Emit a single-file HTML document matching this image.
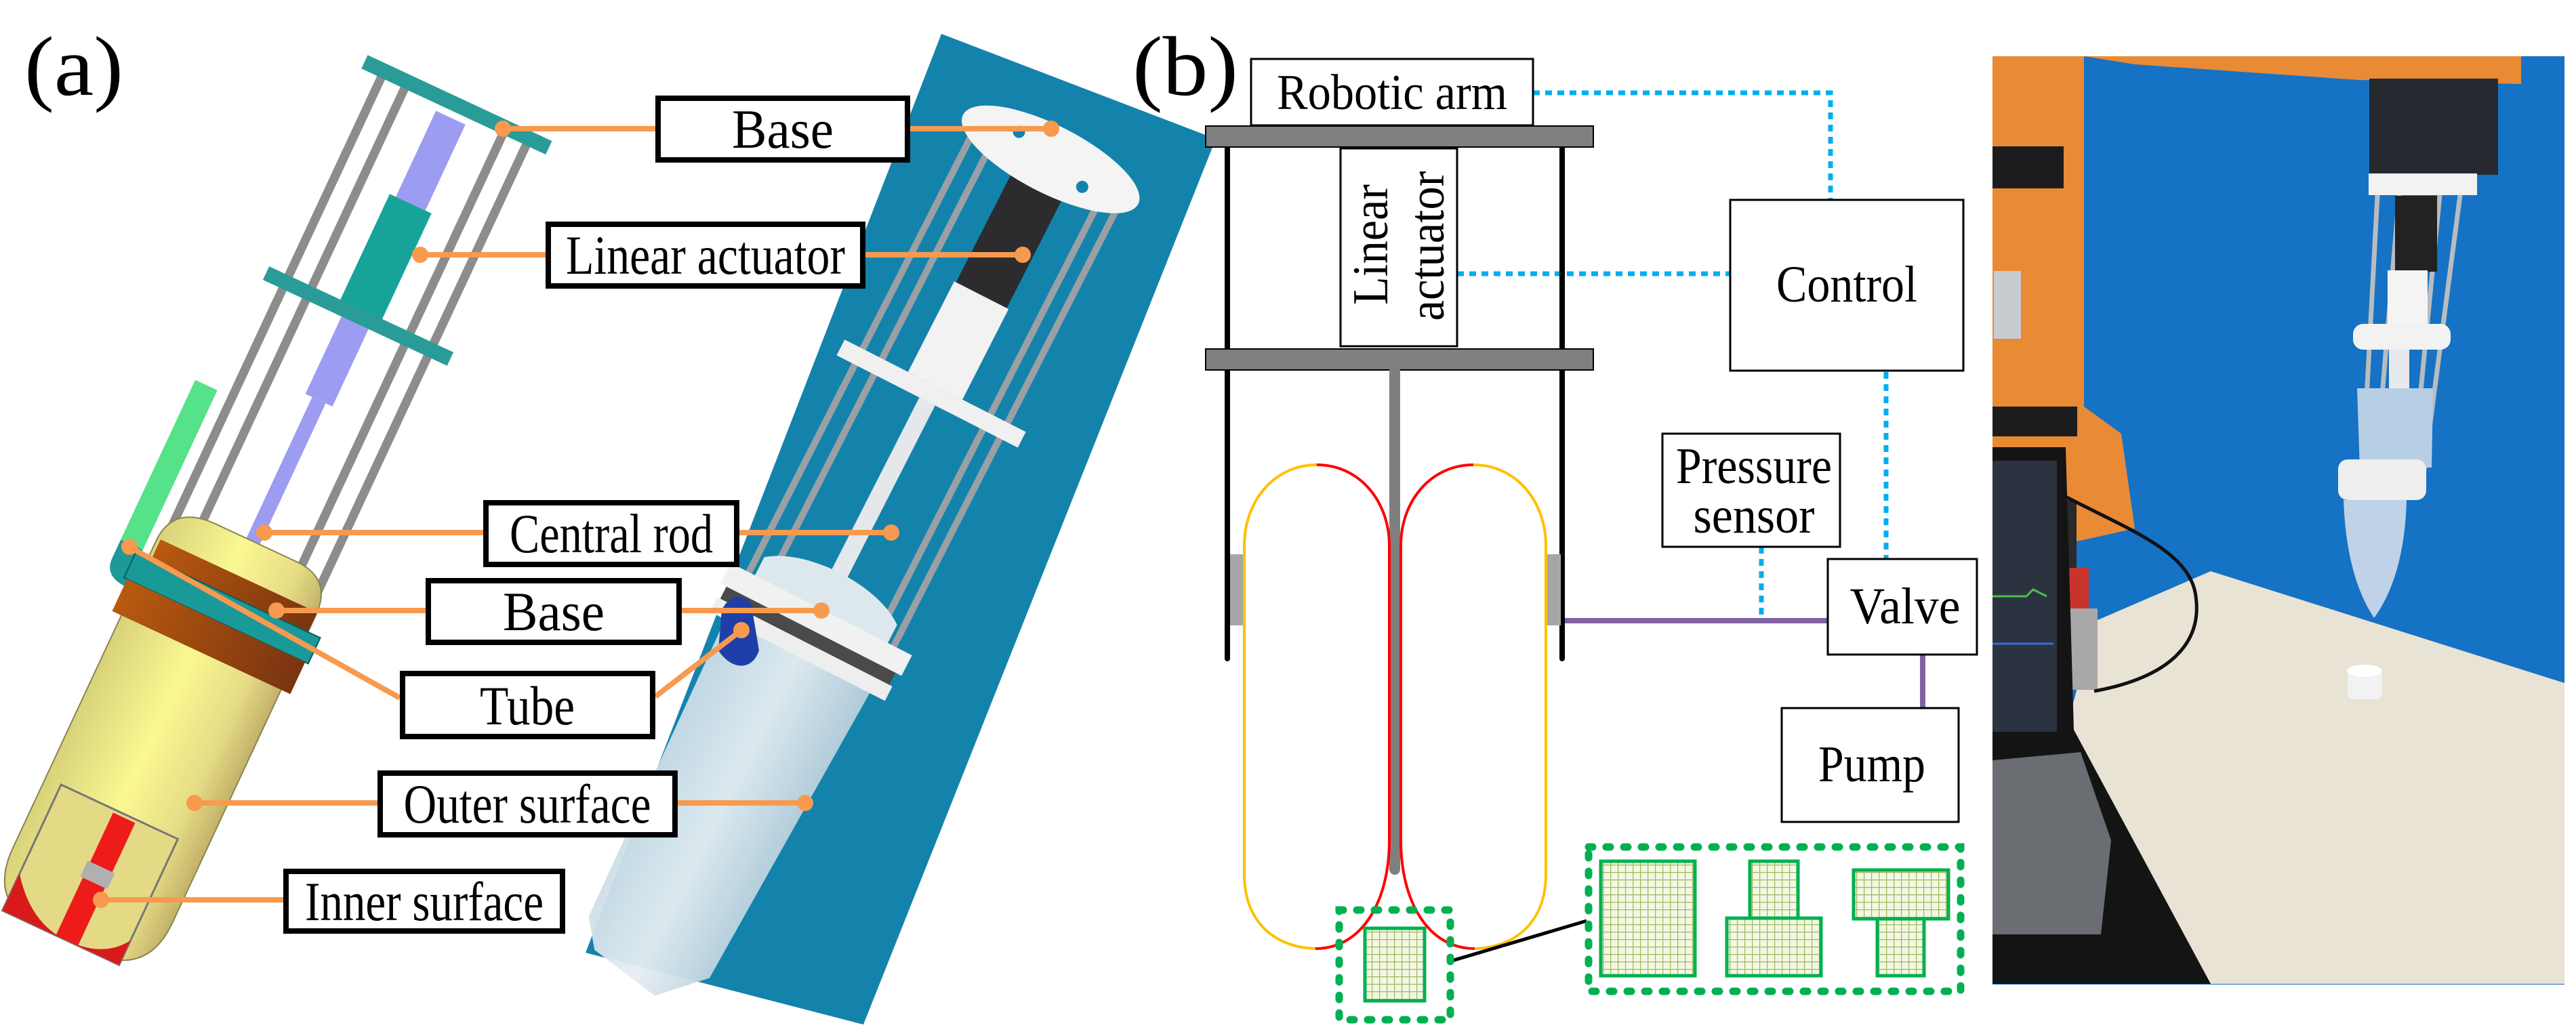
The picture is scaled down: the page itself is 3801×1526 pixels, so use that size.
<!DOCTYPE html>
<html><head><meta charset="utf-8"><style>
html,body{margin:0;padding:0;background:#fff;}
svg{display:block;}
svg text{font-family:"Liberation Serif","DejaVu Serif",serif;fill:#000;}
</style></head><body>
<svg width="3801" height="1526" viewBox="0 0 3801 1526" xmlns="http://www.w3.org/2000/svg" font-family="Liberation Serif, DejaVu Serif, serif">
<defs>
<pattern id="grid" width="11" height="11" patternUnits="userSpaceOnUse">
<rect width="11" height="11" fill="#f4f7e6"/>
<path d="M0 0H11M0 0V11" stroke="#9dbb58" stroke-width="2.5"/>
</pattern>
<linearGradient id="yel" x1="0" x2="1" y1="0" y2="0">
<stop offset="0" stop-color="#d8d27a"/><stop offset="0.45" stop-color="#fbf891"/><stop offset="0.8" stop-color="#e6dc86"/><stop offset="1" stop-color="#c2b26a"/>
</linearGradient>
<linearGradient id="brn" x1="0" x2="1"><stop offset="0" stop-color="#b85a10"/><stop offset="1" stop-color="#7a3410"/></linearGradient>
<linearGradient id="bag" x1="0" x2="1"><stop offset="0" stop-color="#c9dbe6"/><stop offset="0.5" stop-color="#e6eef2"/><stop offset="1" stop-color="#b8cfdc"/></linearGradient>
</defs>

<text x="36" y="140" font-size="125" font-family="Liberation Serif, DejaVu Serif, serif" textLength="146" lengthAdjust="spacingAndGlyphs">(a)</text>

<polygon points="1389,50 1794,205 1274,1512 864,1406" fill="#1483ac"/>

<g transform="translate(1212,899) rotate(27)">
  <path d="M-120,70 L120,70 L100,560 L40,620 L-70,600 L-100,560 Z" fill="url(#bag)" opacity="0.95"/>
  <g stroke="#9aa0a4" stroke-width="10">
    <line x1="-120" y1="-740" x2="-120" y2="40"/><line x1="-88" y1="-740" x2="-88" y2="40"/>
    <line x1="92" y1="-740" x2="92" y2="40"/><line x1="120" y1="-740" x2="120" y2="40"/>
  </g>
  <rect x="-42" y="-720" width="84" height="200" fill="#2c2c2e"/>
  <rect x="-45" y="-520" width="90" height="150" fill="#f2f2f2"/>
  <rect x="-13" y="-370" width="26" height="360" fill="#e4e8ea"/>
  <ellipse cx="0" cy="-745" rx="145" ry="50" fill="#f4f4f4"/>
  <circle cx="-60" cy="-760" r="9" fill="#1483ac"/><circle cx="60" cy="-730" r="9" fill="#1483ac"/>
  <rect x="-150" y="-370" width="300" height="26" fill="#f0f0f0"/>
  <path d="M-110,-30 C-60,-70 60,-70 110,-30 L110,10 L-110,10 Z" fill="#dde8ee"/>
  <rect x="-150" y="0" width="300" height="34" fill="#f1f1f1"/>
  <rect x="-140" y="34" width="280" height="20" fill="#4a4a4a"/>
  <rect x="-145" y="54" width="290" height="24" fill="#eeeeee"/>
</g>
<path d="M1065,900 C1080,870 1110,880 1110,900 L1120,960 C1110,990 1080,990 1060,960 Z" fill="#1f3fa8"/>

<g transform="translate(310,935) rotate(25)">
  <g stroke="#8c8c8c" stroke-width="13">
    <line x1="-118" y1="-860" x2="-118" y2="-30"/><line x1="-80" y1="-860" x2="-80" y2="-30"/>
    <line x1="80" y1="-860" x2="80" y2="-30"/><line x1="118" y1="-860" x2="118" y2="-30"/>
  </g>
  <rect x="-24" y="-840" width="48" height="140" fill="#9c9cf2"/>
  <rect x="-34" y="-700" width="68" height="180" fill="#17a39a"/>
  <rect x="-22" y="-520" width="44" height="140" fill="#9c9cf2"/>
  <rect x="-11" y="-380" width="22" height="260" fill="#9c9cf2"/>
  <rect x="-150" y="-872" width="300" height="22" fill="#2a9c98"/>
  <rect x="-150" y="-528" width="300" height="22" fill="#2a9c98"/>
  <rect x="-178" y="-330" width="36" height="260" fill="#55e288"/>
  <path d="M-178,-70 L-178,-40 Q-178,-10 -140,-10 L-130,-10 L-130,-50 L-142,-50 L-142,-70 Z" fill="#1d9a98"/>
  <path d="M-130,-90 Q-130,-150 -60,-150 L70,-150 Q130,-150 130,-90 L130,410 Q130,500 40,500 L-40,500 Q-130,500 -130,410 Z" fill="url(#yel)" stroke="#8a8450" stroke-width="2"/>
  <rect x="-125" y="-95" width="255" height="32" fill="url(#brn)"/>
  <rect x="-150" y="-63" width="300" height="42" fill="#199a98" stroke="#0a5e5c" stroke-width="2"/>
  <rect x="-145" y="-21" width="290" height="52" fill="url(#brn)"/>
  <rect x="-105" y="295" width="190" height="205" fill="#e4da86" stroke="#777" stroke-width="3"/>
  <rect x="-18" y="300" width="36" height="200" fill="#ee1b1b"/>
  <rect x="-22" y="380" width="44" height="26" fill="#b0b0b0"/>
  <path d="M-105,440 Q-60,500 0,500 Q60,500 85,460 L85,500 L-105,500 Z" fill="#d81a1a"/>
</g>

<g stroke="#f79a4f" stroke-width="8" fill="none">
  <line x1="742" y1="190" x2="967" y2="190"/><line x1="1343" y1="190" x2="1551" y2="190"/>
  <line x1="620" y1="376" x2="805" y2="376"/><line x1="1277" y1="376" x2="1509" y2="376"/>
  <line x1="390" y1="786" x2="713" y2="786"/><line x1="1091" y1="786" x2="1315" y2="786"/>
  <line x1="408" y1="901" x2="628" y2="901"/><line x1="1006" y1="901" x2="1212" y2="901"/>
  <line x1="191" y1="807" x2="590" y2="1030"/><line x1="967" y1="1028" x2="1094" y2="930"/>
  <line x1="287" y1="1185" x2="557" y2="1185"/><line x1="1000" y1="1185" x2="1188" y2="1185"/>
  <line x1="149" y1="1328" x2="418" y2="1328"/>
</g>
<g fill="#f79a4f">
  <circle cx="742" cy="190" r="12"/><circle cx="1551" cy="190" r="12"/>
  <circle cx="620" cy="376" r="12"/><circle cx="1509" cy="376" r="12"/>
  <circle cx="390" cy="786" r="12"/><circle cx="1315" cy="786" r="12"/>
  <circle cx="408" cy="901" r="12"/><circle cx="1212" cy="901" r="12"/>
  <circle cx="191" cy="807" r="12"/><circle cx="1094" cy="930" r="12"/>
  <circle cx="287" cy="1185" r="12"/><circle cx="1188" cy="1185" r="12"/>
  <circle cx="149" cy="1328" r="12"/>
</g>

<g fill="#fff" stroke="#000" stroke-width="8">
  <rect x="971" y="145" width="368" height="91"/>
  <rect x="809" y="331" width="464" height="91"/>
  <rect x="717" y="742" width="370" height="91"/>
  <rect x="632" y="857" width="370" height="91"/>
  <rect x="594" y="994" width="369" height="93"/>
  <rect x="561" y="1141" width="435" height="91"/>
  <rect x="422" y="1286" width="408" height="88"/>
</g>
<g font-size="82" text-anchor="middle" font-family="Liberation Serif, DejaVu Serif, serif">
  <text x="1155" y="218" textLength="150" lengthAdjust="spacingAndGlyphs">Base</text>
  <text x="1041" y="404" textLength="412" lengthAdjust="spacingAndGlyphs">Linear actuator</text>
  <text x="902" y="815" textLength="300" lengthAdjust="spacingAndGlyphs">Central rod</text>
  <text x="817" y="930" textLength="150" lengthAdjust="spacingAndGlyphs">Base</text>
  <text x="778" y="1069" textLength="140" lengthAdjust="spacingAndGlyphs">Tube</text>
  <text x="778" y="1214" textLength="365" lengthAdjust="spacingAndGlyphs">Outer surface</text>
  <text x="626" y="1358" textLength="352" lengthAdjust="spacingAndGlyphs">Inner surface</text>
</g>

<text x="1671" y="140" font-size="125" font-family="Liberation Serif, DejaVu Serif, serif" textLength="156" lengthAdjust="spacingAndGlyphs">(b)</text>

<g stroke="#00aeef" stroke-width="7" fill="none" stroke-dasharray="10 8">
  <polyline points="2262,137 2701,137 2701,295"/>
  <line x1="2150" y1="404" x2="2553" y2="404"/>
  <line x1="2783" y1="549" x2="2783" y2="825"/>
  <line x1="2599" y1="807" x2="2599" y2="914"/>
</g>
<g stroke="#8064a2" stroke-width="8">
  <line x1="2308" y1="916" x2="2697" y2="916"/>
  <line x1="2837" y1="966" x2="2837" y2="1045"/>
</g>

<g stroke="#000" stroke-width="8" stroke-linecap="round">
  <line x1="1811" y1="216" x2="1811" y2="972"/>
  <line x1="2305" y1="216" x2="2305" y2="972"/>
</g>
<rect x="1779" y="186" width="572" height="31" fill="#7f7f7f" stroke="#000" stroke-width="2"/>
<rect x="1779" y="515" width="572" height="31" fill="#7f7f7f" stroke="#000" stroke-width="2"/>
<rect x="1846" y="87" width="416" height="98" fill="#fff" stroke="#000" stroke-width="3"/>
<g font-size="74" text-anchor="middle" font-family="Liberation Serif, DejaVu Serif, serif">
<text x="2054" y="161" textLength="340" lengthAdjust="spacingAndGlyphs">Robotic arm</text>
</g>
<rect x="1978" y="219" width="172" height="292" fill="#fff" stroke="#000" stroke-width="3"/>
<g font-size="74" text-anchor="middle" font-family="Liberation Serif, DejaVu Serif, serif">
<text transform="translate(2047,361) rotate(-90)" textLength="178" lengthAdjust="spacingAndGlyphs">Linear</text>
<text transform="translate(2130,363) rotate(-90)" textLength="221" lengthAdjust="spacingAndGlyphs">actuator</text>
</g>

<line x1="2058" y1="546" x2="2058" y2="1283" stroke="#7f7f7f" stroke-width="16" stroke-linecap="round"/>
<rect x="1815" y="818" width="22" height="105" fill="#a6a6a6"/>
<rect x="2281" y="818" width="22" height="105" fill="#a6a6a6"/>

<g fill="none" stroke-width="4">
  <path d="M1943,686 C1880,686 1836,740 1836,805 L1836,1290 C1836,1360 1880,1398 1941,1400" stroke="#ffc000"/>
  <path d="M1943,686 C2006,686 2050,740 2050,805 L2050,1240 C2050,1330 2010,1400 1941,1400" stroke="#ff0000"/>
  <path d="M2174,686 C2237,686 2281,740 2281,805 L2281,1290 C2281,1360 2237,1398 2176,1400" stroke="#ffc000"/>
  <path d="M2174,686 C2111,686 2067,740 2067,805 L2067,1240 C2067,1330 2107,1400 2176,1400" stroke="#ff0000"/>
</g>

<g fill="#fff" stroke="#000" stroke-width="3">
  <rect x="2553" y="295" width="344" height="252"/>
  <rect x="2453" y="640" width="262" height="167"/>
  <rect x="2697" y="825" width="220" height="141"/>
  <rect x="2629" y="1045" width="261" height="168"/>
</g>
<g font-size="76" text-anchor="middle" font-family="Liberation Serif, DejaVu Serif, serif">
  <text x="2725" y="445" textLength="208" lengthAdjust="spacingAndGlyphs">Control</text>
  <text x="2588" y="713" textLength="230" lengthAdjust="spacingAndGlyphs">Pressure</text>
  <text x="2588" y="786" textLength="179" lengthAdjust="spacingAndGlyphs">sensor</text>
  <text x="2811" y="920" textLength="163" lengthAdjust="spacingAndGlyphs">Valve</text>
  <text x="2762" y="1153" textLength="158" lengthAdjust="spacingAndGlyphs">Pump</text>
</g>

<line x1="2142" y1="1418" x2="2341" y2="1359" stroke="#000" stroke-width="5"/>
<g fill="none" stroke="#00b050" stroke-width="11" stroke-linecap="round" stroke-dasharray="6 20">
  <rect x="1976" y="1343" width="164" height="162"/>
  <rect x="2344" y="1250" width="549" height="213"/>
</g>
<g fill="url(#grid)" stroke="#00b050" stroke-width="5">
  <rect x="2014" y="1370" width="88" height="107"/>
  <rect x="2362" y="1271" width="139" height="169"/>
  <rect x="2582" y="1271" width="71" height="84"/>
  <rect x="2548" y="1355" width="139" height="85"/>
  <rect x="2735" y="1284" width="140" height="72"/>
  <rect x="2770" y="1356" width="69" height="84"/>
</g>

<g>
  <rect x="2940" y="83" width="844" height="1370" fill="#1572c4"/>
  <path d="M2940,83 L3075,83 L3075,600 L3130,640 L3150,780 L3060,800 L2940,800 Z" fill="#e98a35"/>
  <rect x="2940" y="216" width="105" height="62" fill="#1c1c1c"/>
  <rect x="2940" y="600" width="125" height="44" fill="#1c1c1c"/>
  <rect x="2942" y="400" width="40" height="100" fill="#c8ccd0"/>
  <path d="M3075,83 L3720,83 L3720,124 L3480,118 L3150,95 Z" fill="#e98a35"/>
  <rect x="3496" y="116" width="190" height="142" fill="#262a30"/>
  <rect x="3495" y="256" width="160" height="32" fill="#f2f2f2"/>
  <g stroke="#b8bcc0" stroke-width="7">
    <line x1="3508" y1="288" x2="3486" y2="700"/><line x1="3630" y1="288" x2="3576" y2="700"/>
    <line x1="3540" y1="288" x2="3505" y2="700"/><line x1="3600" y1="288" x2="3560" y2="700"/>
  </g>
  <rect x="3534" y="289" width="62" height="112" fill="#222"/>
  <rect x="3523" y="399" width="59" height="82" fill="#f4f4f4"/>
  <rect x="3472" y="478" width="144" height="38" rx="15" fill="#f2f2f2"/>
  <rect x="3525" y="516" width="30" height="60" fill="#e6eaee"/>
  <path d="M3478,573 L3590,573 L3588,690 L3482,692 Z" fill="#b7cfe4"/>
  <rect x="3450" y="678" width="130" height="60" rx="14" fill="#eeeeee"/>
  <path d="M3458,738 L3551,738 Q3548,850 3503,912 Q3462,850 3458,738 Z" fill="#bfd2e8"/>
  <polygon points="3262,843 3784,1008 3784,1452 3262,1452 3048,1077 3093,916" fill="#e8e3d4"/>
  <rect x="3009" y="738" width="55" height="100" fill="#2a2a2a"/>
  <rect x="3012" y="838" width="70" height="60" fill="#c8342c"/>
  <rect x="3025" y="898" width="70" height="120" fill="#a8a8a8"/>
  <path d="M3090,1020 C3200,1000 3250,950 3240,880 C3230,800 3100,770 2990,700" fill="none" stroke="#111" stroke-width="5"/>
  <polygon points="2940,660 3048,660 3060,1077 3262,1452 2940,1452" fill="#141414"/>
  <rect x="2940" y="680" width="95" height="400" fill="#2c3340"/>
  <polyline points="2940,880 2990,880 3000,870 3020,880" fill="none" stroke="#4cc04c" stroke-width="3"/>
  <line x1="2940" y1="950" x2="3030" y2="950" stroke="#3a6adf" stroke-width="3"/>
  <polygon points="2940,1122 3070,1110 3115,1240 3100,1379 2940,1379" fill="#6a6e73"/>
  <rect x="3464" y="990" width="51" height="42" rx="8" fill="#f2f2f4"/>
  <ellipse cx="3489" cy="990" rx="26" ry="9" fill="#ffffff"/>
</g>
</svg>
</body></html>
